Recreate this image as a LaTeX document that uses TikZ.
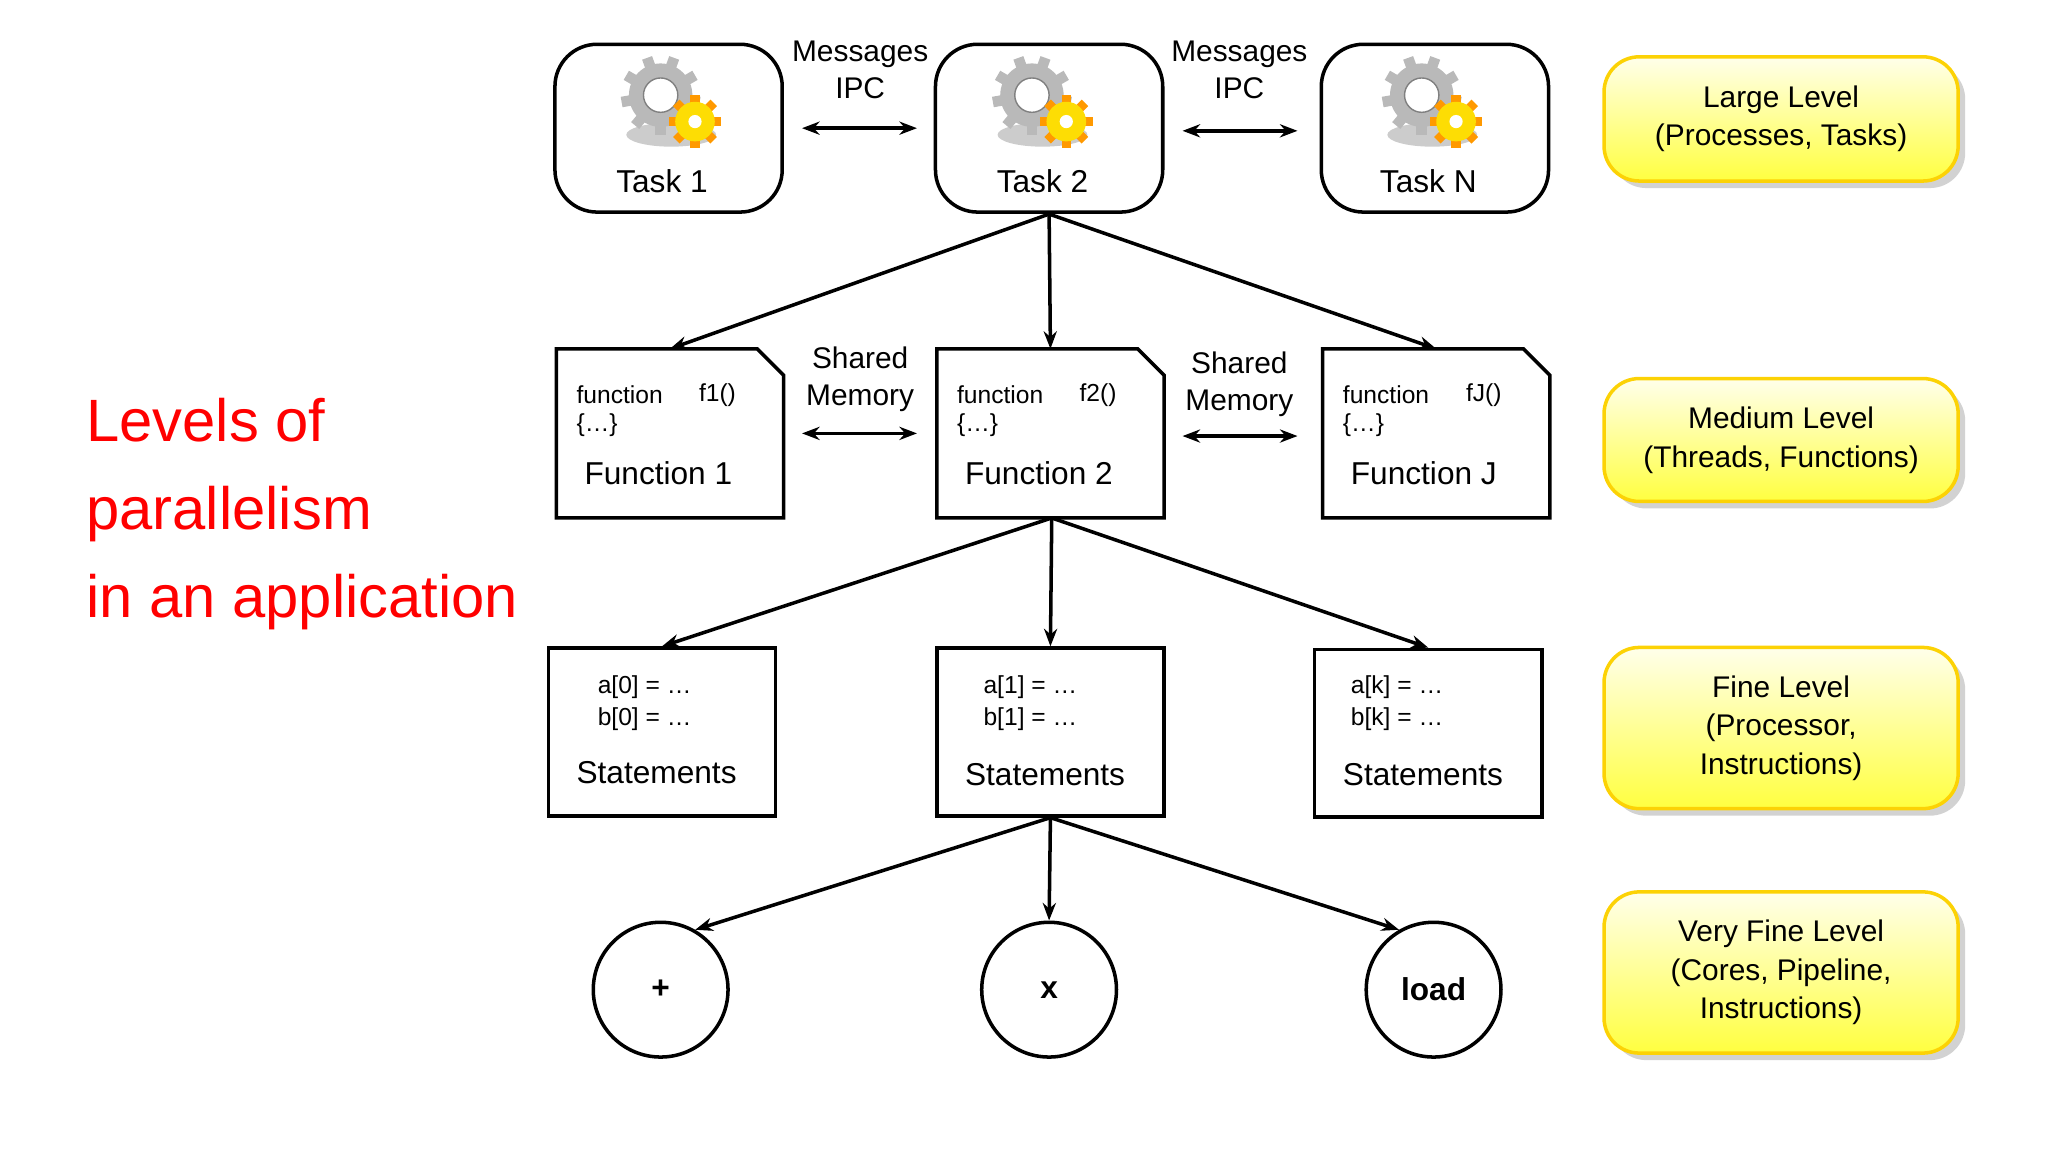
\documentclass[tikz,border=0pt]{standalone}
\usepackage{fontspec}
\setmainfont{Liberation Sans}
\usetikzlibrary{arrows.meta,shapes.geometric,shadows}
\tikzset{
  task/.style={draw, rounded corners=12pt, line width=1pt, minimum width=172*0.01321cm, minimum height=127*0.01321cm},
  blk/.style={draw, line width=1pt, minimum width=172*0.01321cm, minimum height=127*0.01321cm},
  op/.style={draw, circle, line width=1pt, minimum size=102*0.01321cm, font=\fontsize{9}{11}\selectfont\bfseries},
  level/.style={draw=yellow!70!orange, rounded corners=10pt, line width=1pt, top color=yellow!8, bottom color=yellow!75,
    drop shadow={shadow xshift=2pt, shadow yshift=-2pt, fill=black!35}, minimum width=268*0.01321cm,
    align=center, font=\fontsize{8.5}{11}\selectfont},
  lbl/.style={align=center, font=\fontsize{8.5}{10.5}\selectfont},
  link/.style={-{Stealth[length=5pt]}, line width=1pt},
  both/.style={{Stealth[length=5pt]}-{Stealth[length=5pt]}, line width=1pt},
}
\newcommand{\gears}[1]{%
  \begin{scope}[shift={#1}]
    \fill[black!20] (8,30) ellipse (34 and 9);
    \foreach \a in {0,40,...,320}
      \fill[gray!55, rotate=\a] (-4,22) rectangle (4,30);
    \fill[gray!55] (0,0) circle (24);
    \fill[white] (0,0) circle (13);
    \draw[gray] (0,0) circle (13);
    \begin{scope}[shift={(26,20)}]
      \foreach \a in {0,45,...,315}
        \fill[orange!80!yellow, rotate=\a] (-3.5,13) rectangle (3.5,20);
      \fill[yellow!80!orange] (0,0) circle (15);
      \fill[white] (0,0) circle (5);
    \end{scope}
  \end{scope}}
\begin{document}
\begin{tikzpicture}[x=0.01321cm, y=-0.01321cm]
  \useasboundingbox (0,0) rectangle (1550,872);
  % title
  \node[anchor=west, red, align=left, font=\fontsize{17}{25}\selectfont] (title) at (56,389)
    {Levels of\\parallelism\\in an application};
  % tasks
  \node[task] (t1) at (506,97) {};
  \node[task] (t2) at (794,97) {};
  \node[task] (tn) at (1086,97) {};
  \gears{(500,72)} \gears{(781,72)} \gears{(1076,72)}
  \node[font=\fontsize{9}{11}\selectfont] at (501,137) {Task 1};
  \node[font=\fontsize{9}{11}\selectfont] at (789,137) {Task 2};
  \node[font=\fontsize{9}{11}\selectfont] at (1081,137) {Task N};
  \node[lbl] (m1) at (651,53) {Messages\\IPC};
  \node[lbl] (m2) at (938,53) {Messages\\IPC};
  \coordinate (a1) at (607,97); \coordinate (b1) at (694,97);
  \coordinate (a2) at (895,99); \coordinate (b2) at (982,99);
  \draw[both] (a1) -- (b1);
  \draw[both] (a2) -- (b2);
  % functions
  \foreach \n/\x/\f/\F in {f1/421/f1()/Function 1, f2/709/f2()/Function 2, fj/1001/fJ()/Function J} {
    \draw[line width=1pt] (\x,264) -- (\x+152,264) -- (\x+172,284) -- (\x+172,392) -- (\x,392) -- cycle;
    \node[anchor=west, font=\fontsize{7}{9}\selectfont] at (\x+6,299) {function};
    \node[font=\fontsize{7}{9}\selectfont] at (\x+122,299) {\f};
    \node[anchor=west, font=\fontsize{7}{9}\selectfont] at (\x+6,322) {\{\ldots\}};
    \node[anchor=west, font=\fontsize{9}{11}\selectfont] at (\x+12,358) {\F};
  }
  \coordinate (f1) at (507,264); \coordinate (f2) at (795,264); \coordinate (fj) at (1087,264);
  \node[lbl] (s1) at (651,287) {Shared\\Memory};
  \node[lbl] (s2) at (938,291) {Shared\\Memory};
  \coordinate (c1) at (607,328); \coordinate (d1) at (694,328);
  \coordinate (c2) at (895,330); \coordinate (d2) at (982,330);
  \draw[both] (c1) -- (d1);
  \draw[both] (c2) -- (d2);
  % statements
  \node[blk] (st1) at (501,554) {};
  \node[blk] (st2) at (795,554) {};
  \node[blk] (stk) at (1081,555) {};
  \foreach \x/\i in {447/0, 739/1, 1017/k} {
    \node[anchor=west, font=\fontsize{7}{9}\selectfont, align=left] at (\x-4,532) {a[\i] = \ldots\\b[\i] = \ldots};
  }
  \node[anchor=west, font=\fontsize{9}{11}\selectfont] at (427,585) {Statements};
  \node[anchor=west, font=\fontsize{9}{11}\selectfont] at (721,586) {Statements};
  \node[anchor=west, font=\fontsize{9}{11}\selectfont] at (1007,586) {Statements};
  % operations
  \node[op] (plus) at (500,749) {+};
  \node[op] (mul) at (794,749) {x};
  \node[op] (load) at (1085,749) {load};
  % links
  \coordinate (t2b) at (794,162);
  \coordinate (f2b) at (796,392);
  \draw[link] (t2b) -- (f1);
  \draw[link] (t2b) -- (f2);
  \draw[link] (t2b) -- (fj);
  \draw[link] (f2b) -- (st1.north);
  \draw[link] (f2b) -- (st2.north);
  \draw[link] (f2b) -- (stk.north);
  \draw[link] (st2.south) -- (plus.60);
  \draw[link] (st2.south) -- (mul.north);
  \draw[link] (st2.south) -- (load.120);
  % levels
  \node[level, minimum height=94*0.01321cm] (large) at (1348,90) {Large Level\\(Processes, Tasks)};
  \node[level, minimum height=93*0.01321cm] (medium) at (1348,333) {Medium Level\\(Threads, Functions)};
  \node[level, minimum height=122*0.01321cm] (fine) at (1348,551) {Fine Level\\(Processor,\\Instructions)};
  \node[level, minimum height=122*0.01321cm] (vfine) at (1348,736) {Very Fine Level\\(Cores, Pipeline,\\Instructions)};
\end{tikzpicture}
\end{document}
